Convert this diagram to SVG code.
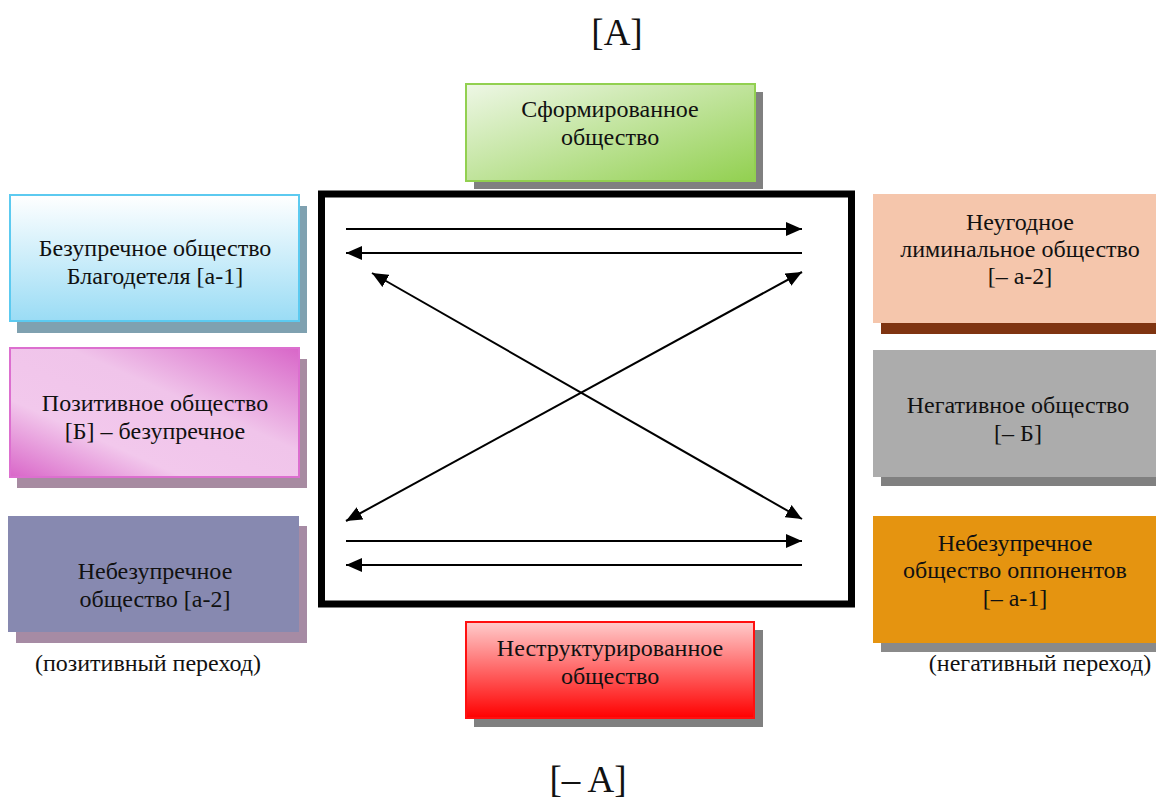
<svg xmlns="http://www.w3.org/2000/svg" width="1156" height="801" viewBox="0 0 1156 801">
<defs>
<style>
text{font-family:"Liberation Serif","Times New Roman",serif;font-size:24px;fill:#111;text-anchor:middle}
.big{font-size:37px}
.conn line{stroke:#000;stroke-width:2}
</style>
<marker id="ah" viewBox="0 0 16 14" refX="16" refY="7" markerWidth="16" markerHeight="14" markerUnits="userSpaceOnUse" orient="auto-start-reverse">
<path d="M0,0 L16,7 L0,14 Z" fill="#000"/>
</marker>
<linearGradient id="gGreen" x1="0" y1="0" x2="1" y2="1">
<stop offset="0" stop-color="#eef7e6"/><stop offset="1" stop-color="#92d050"/>
</linearGradient>
<linearGradient id="gBlue" x1="0" y1="0" x2="0" y2="1">
<stop offset="0" stop-color="#ffffff"/><stop offset="1" stop-color="#9adcf5"/>
</linearGradient>
<linearGradient id="gPink" x1="0" y1="1" x2="1" y2="0">
<stop offset="0" stop-color="#d966c8"/><stop offset="0.3" stop-color="#f2c8ec"/><stop offset="0.6" stop-color="#f0c4ea"/><stop offset="1" stop-color="#d866c8"/>
</linearGradient>
<linearGradient id="gRed" x1="0" y1="0" x2="0" y2="1">
<stop offset="0" stop-color="#ffcccc"/><stop offset="1" stop-color="#ff0000"/>
</linearGradient>
</defs>
<rect width="1156" height="801" fill="#fff"/>
<text class="big" x="617" y="45">[A]</text>
<text class="big" x="588" y="792">[– A]</text>

<g id="frame">
<rect x="321.5" y="194" width="530" height="410" fill="#fff" stroke="#000" stroke-width="7"/>
</g>

<g id="n-top">
<rect x="474" y="92" width="289" height="97" fill="#808080"/>
<rect x="466" y="84" width="289" height="97" fill="url(#gGreen)" stroke="#92d050" stroke-width="2"/>
<text x="610" y="117">Сформированное</text>
<text x="610" y="145">общество</text>
</g>

<g id="n-blue">
<rect x="17" y="206" width="290" height="127" fill="#7fa1b0"/>
<rect x="10" y="195" width="289" height="126" fill="url(#gBlue)" stroke="#5ccaf0" stroke-width="2"/>
<text x="155" y="256">Безупречное общество</text>
<text x="155" y="284">Благодетеля [а-1]</text>
</g>

<g id="n-pink">
<rect x="17" y="359" width="290" height="129" fill="#a78ba1"/>
<rect x="10" y="348" width="289" height="129" fill="url(#gPink)" stroke="#dc6fcf" stroke-width="2"/>
<text x="155" y="411">Позитивное общество</text>
<text x="155" y="439">[Б] – безупречное</text>
</g>

<g id="n-purple">
<rect x="16" y="526" width="291" height="117" fill="#a68ba4"/>
<rect x="8" y="516" width="291" height="116" fill="#8789b0"/>
<text x="155" y="579">Небезупречное</text>
<text x="155" y="607">общество [а-2]</text>
<text x="148" y="671">(позитивный переход)</text>
</g>

<g id="n-peach">
<rect x="881" y="323" width="275" height="11" fill="#7f3411"/>
<rect x="873" y="194" width="283" height="129" fill="#f5c6ac"/>
<text x="1020" y="230">Неугодное</text>
<text x="1020" y="257">лиминальное общество</text>
<text x="1020" y="284">[– а-2]</text>
</g>

<g id="n-gray">
<rect x="881" y="477" width="275" height="9" fill="#808080"/>
<rect x="873" y="350" width="283" height="127" fill="#acacac"/>
<text x="1018" y="413">Негативное общество</text>
<text x="1018" y="441">[– Б]</text>
</g>

<g id="n-orange">
<rect x="881" y="643" width="275" height="9" fill="#8a8a8a"/>
<rect x="873" y="516" width="283" height="127" fill="#e59410"/>
<text x="1015" y="551">Небезупречное</text>
<text x="1015" y="578">общество оппонентов</text>
<text x="1015" y="606">[– а-1]</text>
<text x="1040" y="671">(негативный переход)</text>
</g>

<g id="n-red">
<rect x="474" y="630" width="289" height="97" fill="#808080"/>
<rect x="466" y="622" width="288" height="96" fill="url(#gRed)" stroke="#ff1010" stroke-width="2"/>
<text x="610" y="656">Неструктурированное</text>
<text x="610" y="684">общество</text>
</g>

<g id="connectors" class="conn">
<line x1="346" y1="229" x2="802" y2="229" marker-end="url(#ah)"/>
<line x1="802" y1="253" x2="346" y2="253" marker-end="url(#ah)"/>
<line x1="802" y1="519" x2="372" y2="273" marker-start="url(#ah)" marker-end="url(#ah)"/>
<line x1="346" y1="521" x2="802" y2="272" marker-start="url(#ah)" marker-end="url(#ah)"/>
<line x1="346" y1="541" x2="802" y2="541" marker-end="url(#ah)"/>
<line x1="802" y1="565" x2="346" y2="565" marker-end="url(#ah)"/>
</g>
</svg>
